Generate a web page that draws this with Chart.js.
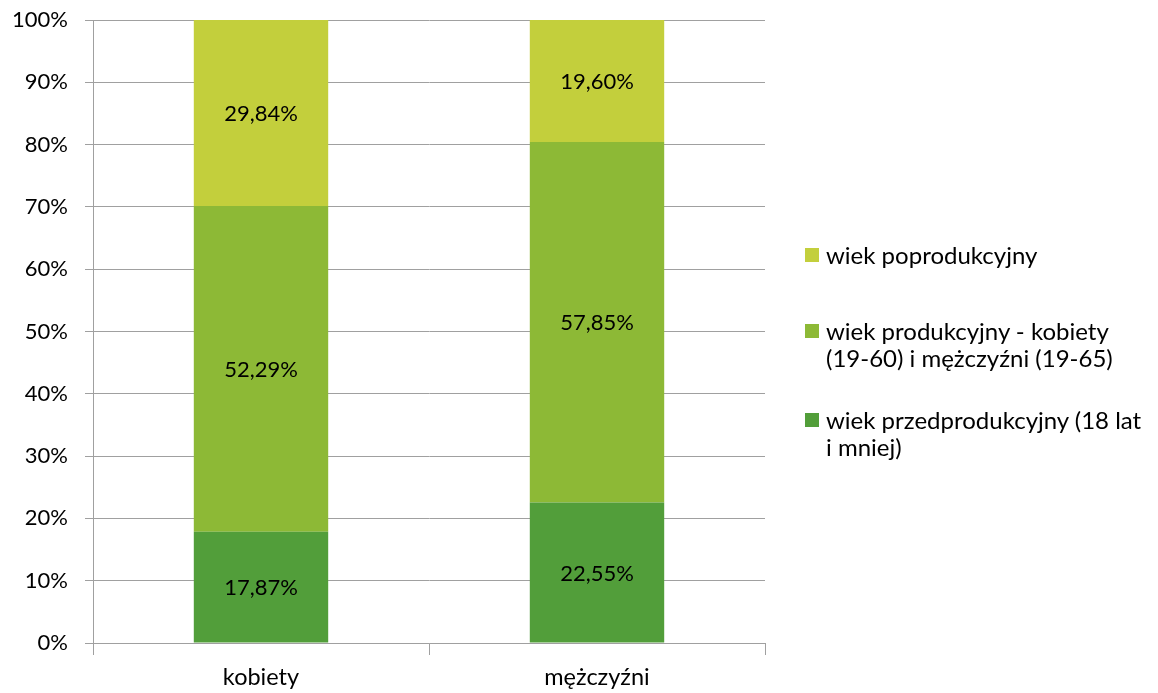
<!DOCTYPE html>
<html>
<head>
<meta charset="utf-8">
<script src="https://cdn.jsdelivr.net/npm/chart.js@4/dist/chart.umd.min.js"></script>
<style>
  body { margin: 0; background: #fff; }
  #wrap { position: relative; width: 1158px; height: 693px; }
  #legend { position: absolute; left: 805px; top: 0; font-family: Lato, sans-serif; font-size: 24px; color: #000; }
  .item { position: absolute; left: 0; white-space: nowrap; line-height: 27px; }
  .sw { position: absolute; left: 0; top: 7px; width: 14px; height: 14px; }
  .txt { margin-left: 21px; }
</style>
</head>
<body>
<div id="wrap">
  <canvas id="chart" width="1158" height="693"></canvas>
  <div id="legend"></div>
</div>
<script>
// data
const categories = ['kobiety', 'mężczyźni'];
const przedprodukcyjny = [17.87, 22.55];
const produkcyjny = [52.29, 57.85];
const poprodukcyjny = [29.84, 19.60];
const seriesLabels = [
    ['wiek przedprodukcyjny (18 lat', 'i mniej)'],
    ['wiek produkcyjny - kobiety', '(19-60) i mężczyźni (19-65)'],
    ['wiek poprodukcyjny']
];
const yTicks = [0, 10, 20, 30, 40, 50, 60, 70, 80, 90, 100];

const colors = ['#529e3a', '#8db936', '#c3cf3c'];
const FONT = 'Lato, sans-serif';

// value labels in the middle of every segment
const segmentLabels = {
    id: 'segmentLabels',
    afterDatasetsDraw(chart) {
        const ctx = chart.ctx;
        ctx.save();
        ctx.font = '22px ' + FONT;
        ctx.fillStyle = '#000';
        ctx.textAlign = 'center';
        ctx.textBaseline = 'middle';
        chart.data.datasets.forEach((ds, i) => {
            chart.getDatasetMeta(i).data.forEach((el, j) => {
                const p = el.getProps(['x', 'y', 'base'], true);
                const txt = ds.data[j].toFixed(2).replace('.', ',') + '%';
                ctx.fillText(txt, p.x, (p.y + p.base) / 2 + 1);
            });
        });
        ctx.restore();
    }
};

const ctx = document.getElementById('chart').getContext('2d');
const chart = new Chart(ctx, {
    type: 'bar',
    data: {
        labels: categories,
        datasets: [
            { label: seriesLabels[0].join(' '), data: przedprodukcyjny, backgroundColor: colors[0] },
            { label: seriesLabels[1].join(' '), data: produkcyjny, backgroundColor: colors[1] },
            { label: seriesLabels[2].join(' '), data: poprodukcyjny, backgroundColor: colors[2] }
        ]
    },
    options: {
        responsive: false,
        animation: false,
        layout: { padding: { left: 0, right: 393, top: 20, bottom: 0 } },
        datasets: { bar: { categoryPercentage: 1, barPercentage: 0.4 } },
        plugins: {
            legend: { display: false },
            tooltip: { enabled: false }
        },
        scales: {
            x: {
                stacked: true,
                grid: { offset: true, drawOnChartArea: false, drawTicks: true, tickLength: 12, color: '#a0a0a0' },
                border: { color: '#a0a0a0' },
                ticks: { font: { family: FONT, size: 23.5 }, color: '#000', padding: 8 },
                afterFit(scale) {
                    scale.height = 50;
                    scale.paddingLeft = 0;
                    scale.paddingRight = 0;
                }
            },
            y: {
                stacked: true,
                min: 0,
                max: 100,
                afterBuildTicks(scale) { scale.ticks = yTicks.map(v => ({ value: v })); },
                grid: { color: '#a0a0a0', tickLength: 8 },
                border: { color: '#a0a0a0' },
                ticks: {
                    font: { family: FONT, size: 22 },
                    color: '#000',
                    padding: 17,
                    callback: v => v + '%'
                },
                afterFit(scale) {
                    scale.width = 93;
                    scale.paddingTop = 0;
                    scale.paddingBottom = 0;
                }
            }
        }
    },
    plugins: [segmentLabels]
});

// legend on the right, top entry is the last series
const legendTops = [406, 317, 241];
const legend = document.getElementById('legend');
chart.data.datasets.forEach((ds, i) => {
    const item = document.createElement('div');
    item.className = 'item';
    item.style.top = legendTops[i] + 'px';
    item.innerHTML = '<div class="sw" style="background:' + ds.backgroundColor + '"></div>' +
        '<div class="txt">' + seriesLabels[i].join('<br>') + '</div>';
    legend.appendChild(item);
});
</script>
</body>
</html>
